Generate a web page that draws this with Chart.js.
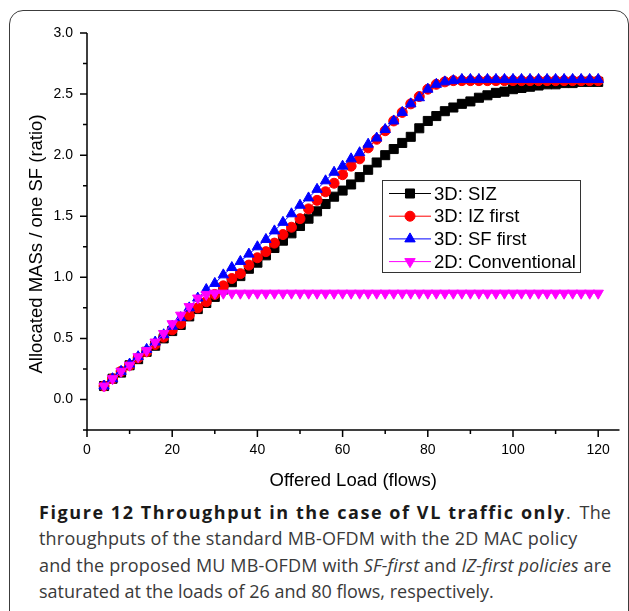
<!DOCTYPE html>
<html>
<head>
<meta charset="utf-8">
<script src="https://cdn.jsdelivr.net/npm/chart.js@4.4.1/dist/chart.umd.min.js"></script>
<style>
  html, body { margin: 0; padding: 0; background: #fff; overflow: hidden; }
  body { width: 629px; height: 611px; position: relative; }
  #frame {
    position: absolute; left: 9px; top: 10px; width: 620px; height: 640px;
    border: 1.5px solid #3c3c3c; border-radius: 14px; box-sizing: border-box;
  }
  #wrap { position: absolute; left: 0; top: 0; width: 629px; height: 490px; }
  #caption {
    position: absolute; left: 39px; top: 499px;
    font-family: "Open Sans", sans-serif; font-size: 18px; line-height: 26.3px;
    letter-spacing: 0.15px; color: #3a3a3a; white-space: nowrap;
  }
  #caption b { color: #1a1a1a; letter-spacing: 1.57px; word-spacing: 0; }
  #caption .l1 { word-spacing: 4px; }
  #caption .l2 { letter-spacing: 0.2px; }
  #caption .l4 { letter-spacing: 0px; }
</style>
</head>
<body>
<div id="frame"></div>
<div id="wrap"><canvas id="chart"></canvas></div>
<div id="caption">
  <span class="l1"><b>Figure 12 Throughput in the case of VL traffic only</b>. The</span><br>
  <span class="l2">throughputs of the standard MB-OFDM with the 2D MAC policy</span><br>
  <span class="l3">and the proposed MU MB-OFDM with <i>SF-first</i> and <i>IZ-first policies</i> are</span><br>
  <span class="l4">saturated at the loads of 26 and 80 flows, respectively.</span>
</div>
<script>
// Offered load (flows)
const loads = [4, 6, 8, 10, 12, 14, 16, 18, 20, 22, 24, 26, 28, 30, 32, 34, 36, 38, 40, 42,
  44, 46, 48, 50, 52, 54, 56, 58, 60, 62, 64, 66, 68, 70, 72, 74, 76, 78, 80, 82,
  84, 86, 88, 90, 92, 94, 96, 98, 100, 102, 104, 106, 108, 110, 112, 114, 116, 118, 120];

// Allocated MASs / one SF (ratio)
const sizValues = [0.11, 0.17, 0.22, 0.28, 0.33, 0.39, 0.44, 0.50, 0.56, 0.61,
  0.68, 0.74, 0.79, 0.84, 0.90, 0.96, 1.01, 1.07, 1.12, 1.18,
  1.24, 1.30, 1.36, 1.42, 1.48, 1.54, 1.60, 1.66, 1.71, 1.76,
  1.82, 1.88, 1.94, 2.00, 2.05, 2.10, 2.15, 2.22, 2.28, 2.32,
  2.36, 2.39, 2.42, 2.44, 2.47, 2.49, 2.51, 2.52, 2.54, 2.55,
  2.56, 2.57, 2.58, 2.58, 2.59, 2.59, 2.60, 2.60, 2.60];

const izFirstValues = [0.11, 0.17, 0.23, 0.28, 0.34, 0.39, 0.45, 0.51, 0.57, 0.62,
  0.69, 0.75, 0.80, 0.86, 0.93, 0.99, 1.03, 1.10, 1.16, 1.21,
  1.28, 1.35, 1.41, 1.48, 1.56, 1.63, 1.70, 1.77, 1.84, 1.91,
  1.97, 2.06, 2.13, 2.20, 2.28, 2.35, 2.42, 2.48, 2.54, 2.58,
  2.60, 2.61, 2.61, 2.61, 2.61, 2.61, 2.61, 2.61, 2.61, 2.61,
  2.61, 2.61, 2.61, 2.61, 2.61, 2.61, 2.61, 2.61, 2.61];

const sfFirstValues = [0.11, 0.17, 0.23, 0.29, 0.35, 0.41, 0.47, 0.53, 0.60, 0.67,
  0.75, 0.83, 0.90, 0.95, 1.02, 1.08, 1.13, 1.19, 1.25, 1.31,
  1.38, 1.45, 1.52, 1.59, 1.65, 1.72, 1.79, 1.86, 1.91, 1.97,
  2.02, 2.09, 2.14, 2.21, 2.28, 2.35, 2.42, 2.47, 2.54, 2.58,
  2.60, 2.61, 2.62, 2.62, 2.62, 2.62, 2.62, 2.62, 2.62, 2.62,
  2.62, 2.62, 2.62, 2.62, 2.62, 2.62, 2.62, 2.62, 2.62];

const conventionalValues = [0.11, 0.17, 0.23, 0.28, 0.35, 0.40, 0.47, 0.54, 0.62, 0.69,
  0.76, 0.83, 0.86, 0.87, 0.87, 0.87, 0.87, 0.87, 0.87, 0.87,
  0.87, 0.87, 0.87, 0.87, 0.87, 0.87, 0.87, 0.87, 0.87, 0.87,
  0.87, 0.87, 0.87, 0.87, 0.87, 0.87, 0.87, 0.87, 0.87, 0.87,
  0.87, 0.87, 0.87, 0.87, 0.87, 0.87, 0.87, 0.87, 0.87, 0.87,
  0.87, 0.87, 0.87, 0.87, 0.87, 0.87, 0.87, 0.87, 0.87];

const seriesNames = ['3D: SIZ', '3D: IZ first', '3D: SF first', '2D: Conventional'];

const xMajorTicks = [0, 20, 40, 60, 80, 100, 120];
const xMinorTicks = [10, 30, 50, 70, 90, 110];
const yMajorTicks = [0.0, 0.5, 1.0, 1.5, 2.0, 2.5, 3.0];
const yMinorTicks = [-0.25, 0.25, 0.75, 1.25, 1.75, 2.25, 2.75];

const FONT = '"Liberation Sans", Arial, sans-serif';

const STYLES = [
  { color: '#000000', pointStyle: 'rect',     radius: 6.4, rotation: 0,   order: 3 },
  { color: '#FF0000', pointStyle: 'circle',   radius: 5,   rotation: 0,   order: 2 },
  { color: '#0000FF', pointStyle: 'triangle', radius: 6,   rotation: 0,   order: 1 },
  { color: '#FF00FF', pointStyle: 'triangle', radius: 6,   rotation: 180, order: 0 },
];

const toPoints = ys => loads.map((x, i) => ({ x, y: ys[i] }));
const allValues = [sizValues, izFirstValues, sfFirstValues, conventionalValues];

const datasets = allValues.map((vals, i) => ({
  label: seriesNames[i],
  data: toPoints(vals),
  borderColor: STYLES[i].color,
  backgroundColor: STYLES[i].color,
  borderWidth: 1,
  pointStyle: STYLES[i].pointStyle,
  pointRadius: STYLES[i].radius,
  pointRotation: STYLES[i].rotation,
  pointBackgroundColor: STYLES[i].color,
  pointBorderColor: STYLES[i].color,
  pointBorderWidth: 1,
  order: STYLES[i].order,
  tension: 0,
}));

// axes, ticks, titles and the in-plot legend (Origin look)
const originFrame = {
  id: 'originFrame',
  afterDraw(chart) {
    const { ctx, chartArea: a, scales: { x, y } } = chart;
    ctx.save();
    ctx.strokeStyle = '#000';
    ctx.fillStyle = '#000';
    ctx.lineWidth = 1.5;

    ctx.beginPath();
    ctx.moveTo(a.left, a.top);
    ctx.lineTo(a.left, a.bottom);
    ctx.lineTo(a.right, a.bottom);
    ctx.stroke();

    ctx.beginPath();
    xMajorTicks.forEach(v => { const p = x.getPixelForValue(v); ctx.moveTo(p, a.bottom); ctx.lineTo(p, a.bottom + 7); });
    xMinorTicks.forEach(v => { const p = x.getPixelForValue(v); ctx.moveTo(p, a.bottom); ctx.lineTo(p, a.bottom + 4); });
    yMajorTicks.forEach(v => { const p = y.getPixelForValue(v); ctx.moveTo(a.left, p); ctx.lineTo(a.left - 7, p); });
    yMinorTicks.forEach(v => { const p = y.getPixelForValue(v); ctx.moveTo(a.left, p); ctx.lineTo(a.left - 4, p); });
    ctx.stroke();

    // axis titles
    ctx.font = '18.5px ' + FONT;
    ctx.textAlign = 'center';
    ctx.textBaseline = 'alphabetic';
    ctx.fillText('Offered Load (flows)', (a.left + a.right) / 2, 486);
    ctx.save();
    ctx.translate(41.5, 244);
    ctx.rotate(-Math.PI / 2);
    ctx.fillText('Allocated MASs / one SF (ratio)', 0, 0);
    ctx.restore();

    // legend
    const box = { x: 382, y: 180, w: 198, h: 92 };
    ctx.fillStyle = '#fff';
    ctx.fillRect(box.x, box.y, box.w, box.h);
    ctx.lineWidth = 1;
    ctx.strokeStyle = '#333';
    ctx.strokeRect(box.x + 0.5, box.y + 0.5, box.w, box.h);
    ctx.textAlign = 'left';
    ctx.textBaseline = 'middle';
    seriesNames.forEach((name, i) => {
      const st = STYLES[i];
      const ry = 193.5 + i * 22.7;
      ctx.strokeStyle = st.color;
      ctx.fillStyle = st.color;
      ctx.lineWidth = 1;
      ctx.beginPath();
      ctx.moveTo(389, ry);
      ctx.lineTo(431, ry);
      ctx.stroke();
      Chart.helpers.drawPoint(ctx, {
        pointStyle: st.pointStyle, radius: st.radius, rotation: st.rotation, borderWidth: 1,
      }, 410, ry);
      ctx.fillStyle = '#000';
      ctx.fillText(name, 434, ry + 1);
    });
    ctx.restore();
  },
};

new Chart(document.getElementById('chart'), {
  type: 'line',
  data: { datasets },
  plugins: [originFrame],
  options: {
    responsive: true,
    maintainAspectRatio: false,
    animation: false,
    layout: { padding: { top: 33, right: 9.5, bottom: 0, left: 0 } },
    plugins: { legend: { display: false }, tooltip: { enabled: false } },
    scales: {
      x: {
        type: 'linear',
        min: 0,
        max: 125,
        afterBuildTicks: s => { s.ticks = xMajorTicks.map(v => ({ value: v })); },
        afterFit: s => { s.height = 60; s.paddingLeft = 0; s.paddingRight = 0; },
        ticks: { color: '#000', font: { family: FONT, size: 14 }, padding: 6, maxRotation: 0 },
        grid: { display: false, drawTicks: true, tickLength: 6 },
        border: { display: false },
      },
      y: {
        type: 'linear',
        min: -0.25,
        max: 3.0,
        afterBuildTicks: s => { s.ticks = yMajorTicks.map(v => ({ value: v })); },
        afterFit: s => { s.width = 87; s.paddingTop = 0; s.paddingBottom = 0; },
        ticks: { color: '#000', font: { family: FONT, size: 14 }, padding: 8, callback: v => v.toFixed(1) },
        grid: { display: false, drawTicks: true, tickLength: 6 },
        border: { display: false },
      },
    },
  },
});
</script>
</body>
</html>
